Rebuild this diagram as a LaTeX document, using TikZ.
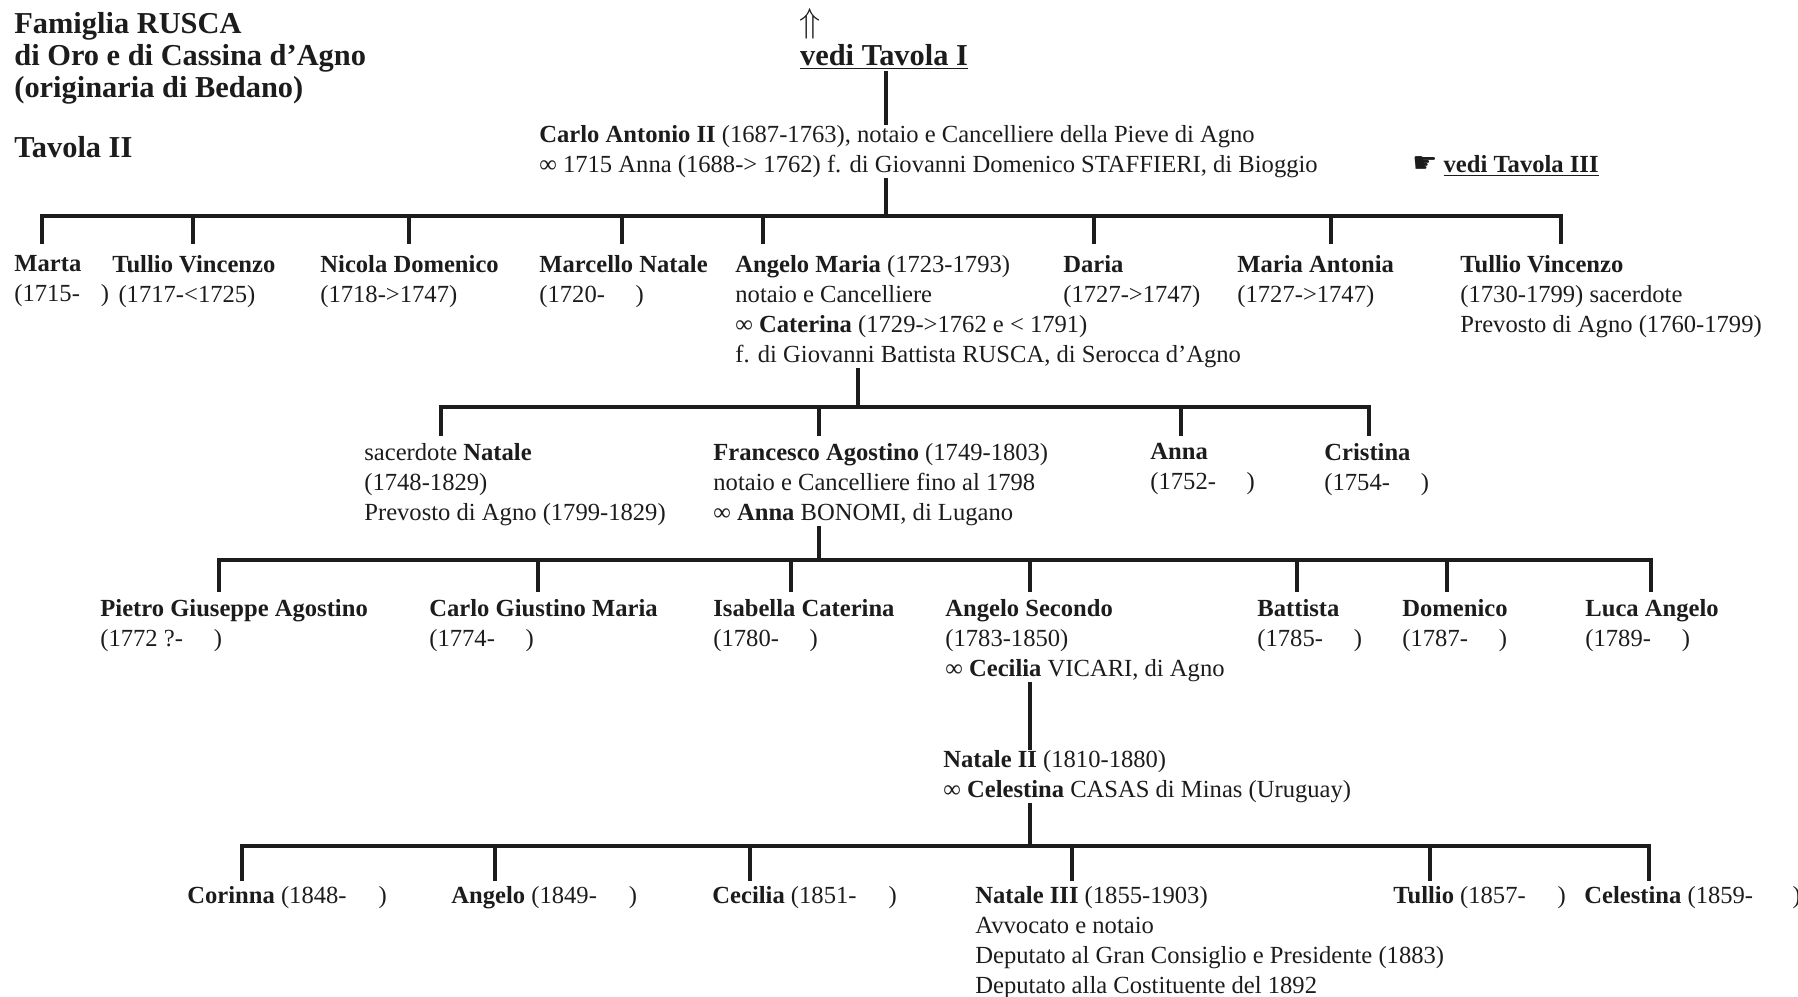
\documentclass[tikz,border=0pt]{standalone}
\usepackage{fontspec}
\setmainfont{Liberation Serif}
\newfontfamily\symfont{DejaVu Sans}
\usetikzlibrary{positioning, calc}
\definecolor{cInk}{RGB}{28,28,28}
\newcommand{\bodyfont}{\fontsize{12.3}{15}\selectfont}
\newcommand{\headfont}{\fontsize{15.2}{16}\selectfont\bfseries}

\begin{document}
\begin{tikzpicture}[
  x=0.5pt, y=-0.5pt,
  % ── people in the tree
  person/.style={
    anchor=north west, align=left, inner sep=0pt,
    font=\bodyfont, text=cInk
  },
  heading/.style={person, font=\headfont},
  % ── connectors
  bar/.style ={draw=cInk, line width=2.3pt, line cap=rect},
  drop/.style={draw=cInk, line width=1.6pt},
]
\useasboundingbox (0,0) rectangle (1798,996);

%% ═══════════════════════════════════════════════════════════════════════════
%%  TITLE AND REFERENCES
%% ═══════════════════════════════════════════════════════════════════════════

\node[heading] (title) at (14,12)
  {Famiglia RUSCA\\di Oro e di Cassina d'Agno\\(originaria di Bedano)};
\node[heading] (tavola) at (14,136) {Tavola II};

\node[font=\fontsize{17}{18}\selectfont, text=cInk, inner sep=0pt] (up) at (810,24) {$\Uparrow$};
\node[font=\headfont, text=cInk, inner sep=0pt, anchor=base] (tav1) at (884,65)
  {\underline{vedi Tavola I}};

\node[person] (carlo) at (539,125) {
  \textbf{Carlo Antonio II} (1687-1763), notaio e Cancelliere della Pieve di Agno\\
  ∞ 1715 Anna (1688-> 1762) f. di Giovanni Domenico STAFFIERI, di Bioggio
};

\node[person] (tav3) at (1412,155)
  {{\symfont\fontsize{14}{15}\selectfont ☛}\ \textbf{\underline{vedi Tavola III}}};

\coordinate (T1) at (886,71);
\draw[drop] (T1) -- (T1 |- carlo.north);

%% ═══════════════════════════════════════════════════════════════════════════
%%  ROW 1 — children of Carlo Antonio II
%% ═══════════════════════════════════════════════════════════════════════════

\node[person] (marta)    at (14,255)   {\textbf{Marta}\\(1715-\hspace{0.85em})};
\node[person] (tullio)   at (112,255)  {\textbf{Tullio Vincenzo}\\\hspace{0.25em}(1717-<1725)};
\node[person] (nicola)   at (320,255)  {\textbf{Nicola Domenico}\\(1718->1747)};
\node[person] (marcello) at (539,255)  {\textbf{Marcello Natale}\\(1720-\hspace{1.25em})};
\node[person] (angelo)   at (735,255)  {
  \textbf{Angelo Maria} (1723-1793)\\
  notaio e Cancelliere\\
  ∞ \textbf{Caterina} (1729->1762 e < 1791)\\
  f. di Giovanni Battista RUSCA, di Serocca d'Agno
};
\node[person] (daria)    at (1063,255) {\textbf{Daria}\\(1727->1747)};
\node[person] (mantonia) at (1237,255) {\textbf{Maria Antonia}\\(1727->1747)};
\node[person] (tullioB)  at (1460,255) {
  \textbf{Tullio Vincenzo}\\
  (1730-1799) sacerdote\\
  Prevosto di Agno (1760-1799)
};

\coordinate (J1) at (886,216);
\draw[drop] (carlo.south -| J1) -- (J1);
\foreach \i/\x in {1/42,2/193,3/409,4/622,5/763,6/1094,7/1331,8/1561}{
  \coordinate (A\i) at (\x,244);
  \draw[drop] (A\i |- J1) -- (A\i);
}
\draw[bar] (A1 |- J1) -- (A8 |- J1);

%% ═══════════════════════════════════════════════════════════════════════════
%%  ROW 2 — children of Angelo Maria
%% ═══════════════════════════════════════════════════════════════════════════

\node[person] (natale)    at (364,443)  {
  sacerdote \textbf{Natale}\\
  (1748-1829)\\
  Prevosto di Agno (1799-1829)
};
\node[person] (francesco) at (713,443)  {
  \textbf{Francesco Agostino} (1749-1803)\\
  notaio e Cancelliere fino al 1798\\
  ∞ \textbf{Anna} BONOMI, di Lugano
};
\node[person] (anna)      at (1150,443) {\textbf{Anna}\\(1752-\hspace{1.25em})};
\node[person] (cristina)  at (1324,443) {\textbf{Cristina}\\(1754-\hspace{1.25em})};

\coordinate (J2) at (858,407);
\draw[drop] (angelo.south -| J2) -- (J2);
\foreach \i/\x in {1/441,2/819,3/1181,4/1369}{
  \coordinate (B\i) at (\x,436);
  \draw[drop] (B\i |- J2) -- (B\i);
}
\draw[bar] (B1 |- J2) -- (B4 |- J2);

%% ═══════════════════════════════════════════════════════════════════════════
%%  ROW 3 — children of Francesco Agostino
%% ═══════════════════════════════════════════════════════════════════════════

\node[person] (pietro)   at (100,599)  {\textbf{Pietro Giuseppe Agostino}\\(1772 ?-\hspace{1.25em})};
\node[person] (carloG)   at (429,599)  {\textbf{Carlo Giustino Maria}\\(1774-\hspace{1.25em})};
\node[person] (isabella) at (713,599)  {\textbf{Isabella Caterina}\\(1780-\hspace{1.25em})};
\node[person] (angeloS)  at (945,599)  {
  \textbf{Angelo Secondo}\\
  (1783-1850)\\
  ∞ \textbf{Cecilia} VICARI, di Agno
};
\node[person] (battista) at (1257,599) {\textbf{Battista}\\(1785-\hspace{1.25em})};
\node[person] (domenico) at (1402,599) {\textbf{Domenico}\\(1787-\hspace{1.25em})};
\node[person] (luca)     at (1585,599) {\textbf{Luca Angelo}\\(1789-\hspace{1.25em})};

\coordinate (J3) at (819,560);
\draw[drop] (francesco.south -| J3) -- (J3);
\foreach \i/\x in {1/219,2/538,3/791,4/1030,5/1297,6/1447,7/1651}{
  \coordinate (C\i) at (\x,592);
  \draw[drop] (C\i |- J3) -- (C\i);
}
\draw[bar] (C1 |- J3) -- (C7 |- J3);

%% ═══════════════════════════════════════════════════════════════════════════
%%  NATALE II
%% ═══════════════════════════════════════════════════════════════════════════

\node[person] (nataleII) at (943,750) {
  \textbf{Natale II} (1810-1880)\\
  ∞ \textbf{Celestina} CASAS di Minas (Uruguay)
};
\draw[drop] (angeloS.south -| C4) -- (C4 |- nataleII.north);

%% ═══════════════════════════════════════════════════════════════════════════
%%  ROW 4 — children of Natale II
%% ═══════════════════════════════════════════════════════════════════════════

\node[person] (corinna)   at (187,886)  {\textbf{Corinna} (1848-\hspace{1.3em})};
\node[person] (angeloC)   at (451,886)  {\textbf{Angelo} (1849-\hspace{1.3em})};
\node[person] (cecilia)   at (712,886)  {\textbf{Cecilia} (1851-\hspace{1.3em})};
\node[person] (nataleIII) at (975,886)  {
  \textbf{Natale III} (1855-1903)\\
  Avvocato e notaio\\
  Deputato al Gran Consiglio e Presidente (1883)\\
  Deputato alla Costituente del 1892
};
\node[person] (tullioC)   at (1393,886) {\textbf{Tullio} (1857-\hspace{1.3em})};
\node[person] (celestina) at (1584,886) {\textbf{Celestina} (1859-\hspace{1.6em})};

\coordinate (J4) at (1030,846);
\draw[drop] (nataleII.south -| J4) -- (J4);
\foreach \i/\x in {1/242,2/495,3/750,4/1072,5/1430,6/1649}{
  \coordinate (D\i) at (\x,881);
  \draw[drop] (D\i |- J4) -- (D\i);
}
\draw[bar] (D1 |- J4) -- (D6 |- J4);

\end{tikzpicture}
\end{document}
